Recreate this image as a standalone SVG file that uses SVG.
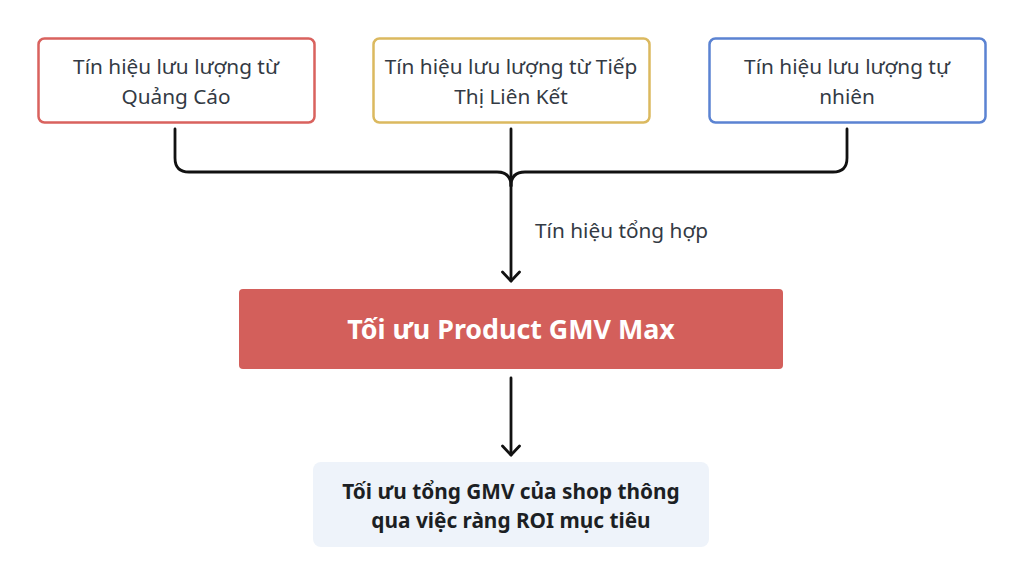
<svg xmlns="http://www.w3.org/2000/svg" width="1024" height="586" viewBox="0 0 1024 586">
<defs>
<style>
.src{fill:#ffffff;stroke-width:2.5}
.t{font-family:"Noto Sans","Open Sans",sans-serif;font-size:20.8px;fill:#333a44;text-anchor:middle}
.b{font-family:"Noto Sans","Open Sans",sans-serif;font-weight:bold;text-anchor:middle}
.c{fill:none;stroke:#111;stroke-width:2.8;stroke-linecap:round;stroke-linejoin:round}
</style>
<marker id="arr" viewBox="0 0 20 20" refX="16" refY="10" markerWidth="20" markerHeight="20" markerUnits="userSpaceOnUse" orient="auto">
<path d="M7,1.5 L16,10 L7,18.5" fill="none" stroke="#111" stroke-width="2.8" stroke-linecap="round" stroke-linejoin="round"/>
</marker>
</defs>
<rect width="1024" height="586" fill="#ffffff"/>
<g id="n1">
<rect class="src" x="38.5" y="38.5" width="276" height="84" rx="6" stroke="#d9625e"/>
<text class="t" x="176" y="74">Tín hiệu lưu lượng từ</text>
<text class="t" x="176" y="104">Quảng Cáo</text>
</g>
<g id="n2">
<rect class="src" x="373.5" y="38.5" width="276" height="84" rx="6" stroke="#dbb95f"/>
<text class="t" x="511" y="74">Tín hiệu lưu lượng từ Tiếp</text>
<text class="t" x="511" y="104">Thị Liên Kết</text>
</g>
<g id="n3">
<rect class="src" x="709.5" y="38.5" width="276" height="84" rx="6" stroke="#5b83d2"/>
<text class="t" x="847" y="74">Tín hiệu lưu lượng tự</text>
<text class="t" x="847" y="104">nhiên</text>
</g>
<g id="n4">
<rect x="239" y="289" width="544" height="80" rx="4" fill="#d35f5b"/>
<text class="b" x="511" y="339" font-size="26.8px" fill="#ffffff">Tối ưu Product GMV Max</text>
</g>
<g id="n5">
<rect x="313" y="462" width="396" height="85" rx="8" fill="#eef3fa"/>
<text class="b" x="511" y="499" font-size="20.8px" fill="#1c1f24">Tối ưu tổng GMV của shop thông</text>
<text class="b" x="511" y="528" font-size="20.8px" fill="#1c1f24">qua việc ràng ROI mục tiêu</text>
</g>
<g id="connectors">
<path class="c" d="M175,129 V158 Q175,172 189,172 H497 Q511,172 511,186"/>
<path class="c" d="M847,129 V158 Q847,172 833,172 H525 Q511,172 511,186"/>
<path class="c" d="M511,129 V281" marker-end="url(#arr)"/>
<path class="c" d="M511,378 V455" marker-end="url(#arr)"/>
<text x="535" y="238" font-family="'Noto Sans','Open Sans',sans-serif" font-size="20.8px" fill="#333a44">Tín hiệu tổng hợp</text>
</g>
</svg>
